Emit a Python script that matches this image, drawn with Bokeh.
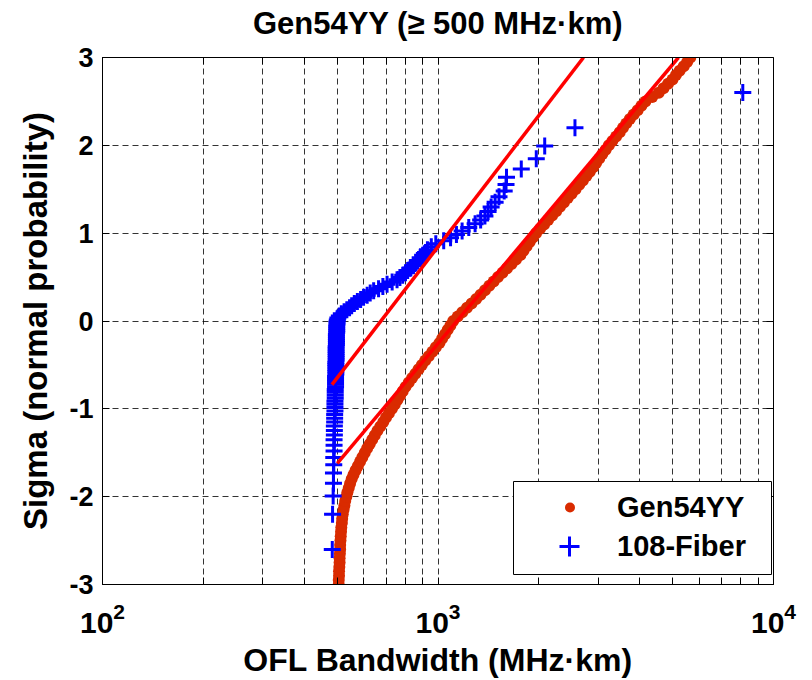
from statistics import NormalDist

from bokeh.embed import file_html
from bokeh.models import (BoxAnnotation, CustomJSTickFormatter, FixedTicker,
                          Legend, LegendItem, LinearAxis, LogAxis, Range1d)
from bokeh.plotting import figure
from bokeh.resources import INLINE

# ---------------------------------------------------------------------------
# Gen54YY: OFL bandwidth (MHz·km) at each sigma level of the probability plot
# ---------------------------------------------------------------------------
gen_sigma = [
    -3.00, -2.95, -2.90, -2.85, -2.80, -2.75, -2.70, -2.65, -2.60, -2.55,
    -2.50, -2.45, -2.40, -2.35, -2.30, -2.25, -2.20, -2.15, -2.10, -2.05,
    -2.00, -1.95, -1.90, -1.85, -1.80, -1.75, -1.70, -1.65, -1.60, -1.55,
    -1.50, -1.45, -1.40, -1.35, -1.30, -1.25, -1.20, -1.15, -1.10, -1.05,
    -1.00, -0.95, -0.90, -0.85, -0.80, -0.75, -0.70, -0.65, -0.60, -0.55,
    -0.50, -0.45, -0.40, -0.35, -0.30, -0.25, -0.20, -0.15, -0.10, -0.05,
    0.00, 0.05, 0.10, 0.15, 0.20, 0.25, 0.30, 0.35, 0.40, 0.45,
    0.50, 0.55, 0.60, 0.65, 0.70, 0.75, 0.80, 0.85, 0.90, 0.95,
    1.00, 1.05, 1.10, 1.15, 1.20, 1.25, 1.30, 1.35, 1.40, 1.45,
    1.50, 1.55, 1.60, 1.65, 1.70, 1.75, 1.80, 1.85, 1.90, 1.95,
    2.00, 2.05, 2.10, 2.15, 2.20, 2.25, 2.30, 2.35, 2.40, 2.45,
    2.50, 2.55, 2.60, 2.65, 2.70, 2.75, 2.80, 2.85, 2.90, 2.95,
    3.00,
]
gen_bw = [
    506, 506, 507, 507, 508, 509, 509, 510, 511, 511,
    512, 513, 514, 515, 517, 518, 520, 523, 526, 529,
    533, 537, 542, 547, 553, 560, 568, 577, 586, 595,
    605, 615, 626, 637, 648, 660, 673, 687, 700, 714,
    729, 743, 757, 771, 785, 800, 818, 837, 856, 875,
    895, 916, 938, 962, 985, 1010, 1029, 1049, 1069, 1089,
    1110, 1145, 1181, 1220, 1259, 1300, 1339, 1380, 1422, 1465,
    1510, 1557, 1606, 1657, 1708, 1760, 1798, 1837, 1877, 1918,
    1960, 2015, 2071, 2129, 2189, 2250, 2310, 2372, 2436, 2502,
    2570, 2636, 2703, 2770, 2835, 2900, 2960, 3025, 3090, 3160,
    3230, 3310, 3395, 3480, 3560, 3640, 3730, 3830, 3935, 4040,
    4150, 4350, 4550, 4700, 4850, 5000, 5120, 5250, 5400, 5530,
    5650,
]

# ---------------------------------------------------------------------------
# 108-Fiber: sorted OFL bandwidths (MHz·km), one per fiber
# ---------------------------------------------------------------------------
fiber_bw = [
    484, 485, 487, 488, 488, 489, 489, 490, 490, 490,
    491, 491, 491, 492, 492, 492, 493, 493, 493, 493,
    494, 494, 494, 494, 495, 495, 495, 495, 495, 496,
    496, 496, 496, 496, 496, 497, 497, 497, 497, 497,
    497, 497, 498, 498, 498, 498, 498, 498, 499, 499,
    499, 499, 500, 500,
    501, 503, 508, 515, 525, 535, 545, 553, 563, 575,
    588, 600, 615, 628, 643, 665, 685, 705, 730, 755,
    770, 785, 800, 812, 830, 845, 860, 868, 885, 900,
    918, 930, 955, 985, 1040, 1090, 1135,
    1180, 1235, 1290, 1340, 1380, 1410, 1440, 1480, 1520, 1575,
    1595, 1600, 1771, 1963, 2080, 2560, 8100,
]
# normal-probability plotting positions (i - 0.5) / n
_n = len(fiber_bw)
_nd = NormalDist()
fiber_sigma = [_nd.inv_cdf((i + 0.5) / _n) for i in range(_n)]

# reference (fit) lines: end points
gen_fit_bw = [501, 5209]
gen_fit_sigma = [-1.62, 3.0]
fiber_fit_bw = [483, 2715]
fiber_fit_sigma = [-0.725, 3.0]

# axis ticks
x_ticks = [100, 1000, 10000]
x_minor = [200, 300, 400, 500, 600, 700, 800, 900,
           2000, 3000, 4000, 5000, 6000, 7000, 8000, 9000]
y_ticks = [-3, -2, -1, 0, 1, 2, 3]

FONT = "Liberation Sans"
GEN_COLOR = "#D92B00"
FIBER_COLOR = "#0000FF"
FIT_COLOR = "#FF0000"

p = figure(
    width=812, height=680,
    x_axis_type="log",
    x_range=Range1d(100, 10000), y_range=Range1d(-3, 3),
    title="Gen54YY (\u2265 500 MHz\u00b7km)",
    output_backend="svg", toolbar_location=None,
    min_border_left=102, min_border_right=39,
    min_border_top=57, min_border_bottom=96,
)
p.background_fill_color = "white"
p.border_fill_color = "white"
p.outline_line_color = "black"
p.outline_line_width = 1
p.outline_line_alpha = 1

p.title.text_font = FONT
p.title.text_font_size = "31px"
p.title.text_font_style = "bold"
p.title.align = "center"
p.title.text_color = "black"
p.title.standoff = 2

xt = FixedTicker(ticks=x_ticks, minor_ticks=x_minor)
yt = FixedTicker(ticks=y_ticks)


def style_axis(ax):
    ax.axis_line_color = "black"
    ax.axis_line_width = 1
    ax.major_tick_line_color = "black"
    ax.minor_tick_line_color = "black"
    ax.major_tick_in = 7
    ax.major_tick_out = 0
    ax.minor_tick_in = 7
    ax.minor_tick_out = 0
    ax.major_label_text_font = FONT
    ax.major_label_text_font_style = "bold"
    ax.major_label_text_color = "black"
    ax.axis_label_text_font = FONT
    ax.axis_label_text_font_style = "bold"
    ax.axis_label_text_color = "black"


xa = p.xaxis[0]
xa.ticker = xt
style_axis(xa)
xa.major_label_text_font_size = "30px"
xa.major_label_standoff = 18
xa.axis_label = "OFL Bandwidth (MHz\u00b7km)"
xa.axis_label_text_font_size = "32px"
xa.axis_label_standoff = 6

ya = p.yaxis[0]
ya.ticker = yt
ya.formatter = CustomJSTickFormatter(code="return String(tick)")
style_axis(ya)
ya.major_label_text_font_size = "27px"
ya.major_label_standoff = 9
ya.axis_label = "Sigma (normal probability)"
ya.axis_label_text_font_size = "33px"
ya.axis_label_standoff = 12

# box axes on top and right, ticks only
top_ax = LogAxis(ticker=xt)
right_ax = LinearAxis(ticker=yt)
for ax in (top_ax, right_ax):
    style_axis(ax)
    ax.major_label_text_font_size = "1px"
    ax.major_label_text_color = None
    ax.major_label_standoff = 0
p.add_layout(top_ax, "above")
p.add_layout(right_ax, "right")

# blank band between the top axis and the title (white tick on white border)
gap = LinearAxis(ticker=FixedTicker(ticks=[10000], minor_ticks=[]),
                 major_tick_out=16, major_tick_in=0,
                 minor_tick_out=0, minor_tick_in=0,
                 axis_line_color=None, major_tick_line_color="white",
                 minor_tick_line_color=None, major_label_text_color=None,
                 major_label_text_font_size="1px", major_label_standoff=0)
p.add_layout(gap, "above")

# dashed grid at major and minor ticks
p.xgrid.ticker = xt
p.ygrid.ticker = yt
for g in (p.xgrid, p.ygrid):
    g.grid_line_color = "black"
    g.grid_line_alpha = 0.8
    g.grid_line_dash = "6 4"
    g.grid_line_width = 1
p.xgrid.minor_grid_line_color = "black"
p.xgrid.minor_grid_line_alpha = 0.8
p.xgrid.minor_grid_line_dash = "6 4"
p.xgrid.minor_grid_line_width = 1

# data
r_gen = p.scatter(gen_bw, gen_sigma, marker="circle", size=12,
                  fill_color=GEN_COLOR, line_color=GEN_COLOR, line_width=0)
r_fib = p.scatter(fiber_bw, fiber_sigma, marker="cross", size=17,
                  line_color=FIBER_COLOR, line_width=3)
p.line(gen_fit_bw, gen_fit_sigma, line_color=FIT_COLOR, line_width=3.5)
p.line(fiber_fit_bw, fiber_fit_sigma, line_color=FIT_COLOR, line_width=3.5)

# legend box with two entries
box = BoxAnnotation(left=411, right=669, bottom=10, top=103,
                    left_units="screen", right_units="screen",
                    bottom_units="screen", top_units="screen",
                    fill_color="white", fill_alpha=1,
                    line_color="black", line_width=1, line_alpha=1)
p.add_layout(box)


def make_legend(item, loc, gw, gh, standoff):
    return Legend(
        items=[item], location=loc, orientation="vertical",
        glyph_width=gw, glyph_height=gh, label_standoff=standoff,
        padding=0, margin=0, spacing=0,
        border_line_color=None, background_fill_alpha=0,
        label_text_font=FONT, label_text_font_size="29px",
        label_text_font_style="bold", label_text_color="black",
        label_text_baseline="middle",
    )


leg_gen = make_legend(LegendItem(label="Gen54YY", renderers=[r_gen]),
                      (455, 59), 25, 36, 35)
leg_fib = make_legend(LegendItem(label="108-Fiber", renderers=[r_fib]),
                      (442, 13), 50, 50, 23)
p.add_layout(leg_gen)
p.add_layout(leg_fib)

open("out.html", "w").write(file_html(p, INLINE))
